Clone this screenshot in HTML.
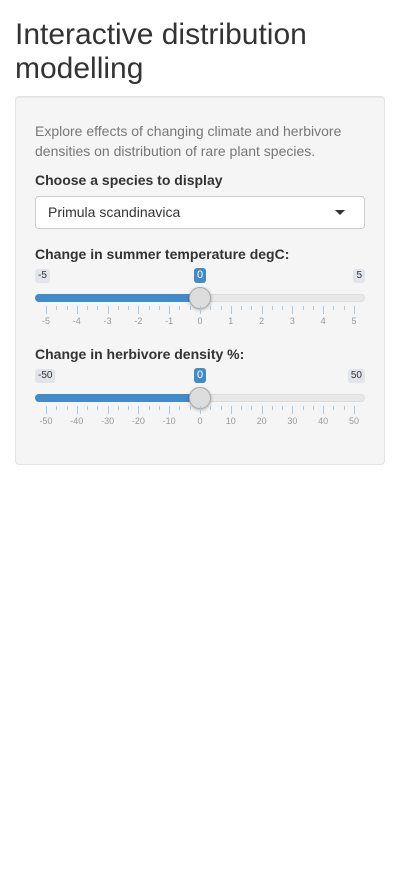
<!DOCTYPE html>
<html><head><meta charset="utf-8"><style>
body{margin:0;width:400px;height:885px;background:#fff;font-family:"Liberation Sans",sans-serif;color:#333;position:relative;overflow:hidden}
.a{position:absolute}
h1{position:absolute;left:15px;top:18px;margin:0;font-weight:400;font-size:30px;line-height:34px;width:370px}
.panel{left:15px;top:96px;width:368px;height:367px;background:#f5f5f5;border:1px solid #e3e3e3;border-radius:4px;box-shadow:inset 0 1px 1px rgba(0,0,0,.05)}
.desc{left:35px;top:121px;width:330px;font-size:14px;line-height:20px;color:#777}
.lbl{left:35px;font-size:14px;font-weight:700}
.sel{left:35px;top:196px;width:328px;height:31px;background:#fff;border:1px solid #ccc;border-radius:4px;font-size:14px;line-height:31px;text-indent:12px}
.caret{right:19px;top:13px;width:0;height:0;border-left:5px solid transparent;border-right:5px solid transparent;border-top:5px solid #333}
.mm{font-size:10px;background:#e1e4e9;color:#333;border-radius:3px;padding:1px 3px;line-height:12px}
.cur{font-size:11px;background:#428bca;color:#fff;border-radius:3px;padding:1px 3px;line-height:13px}
.track{left:35px;width:330px;height:8px;background:#e8e8e8;border:1px solid #ddd;box-sizing:border-box;border-radius:4px}
.bar{left:35px;width:165px;height:8px;background:#428bca;border-radius:4px 0 0 4px}
.handle{width:20px;height:20px;border-radius:50%;background:#ddd;border:1px solid #aaa;box-shadow:0 1px 3px rgba(0,0,0,.3)}
.tick{width:1px;background:#a5c8e8}
.gl{font-size:9px;color:#999;width:30px;text-align:center}
</style></head><body>
<h1>Interactive distribution modelling</h1>
<div class="a panel"></div>
<div class="a desc">Explore effects of changing climate and herbivore densities on distribution of rare plant species.</div>
<div class="a lbl" style="top:172px">Choose a species to display</div>
<div class="a sel">Primula scandinavica<div class="a caret"></div></div>
<div class="a lbl" style="top:246px">Change in summer temperature degC:</div>
<div class="a lbl" style="top:346px">Change in herbivore density %:</div>
<div id="s"></div>
<script>
const tempTicks=[-5,-4,-3,-2,-1,0,1,2,3,4,5];
const herbTicks=[-50,-40,-30,-20,-10,0,10,20,30,40,50];
const tempValue=0, herbValue=0;
function slider(name,ticks,value,top){
  const root=document.getElementById('s');
  const min=ticks[0],max=ticks[ticks.length-1];
  const x=v=>46+(v-min)/(max-min)*308;
  function mk(cls,css,txt){const d=document.createElement('div');d.className='a '+cls;d.style.cssText=css;if(txt!==undefined)d.textContent=txt;root.appendChild(d);return d;}
  let e=mk('mm','left:35px;top:'+(top-29)+'px',String(min));
  
  
  e=mk('mm','right:'+(400-365)+'px;top:'+(top-29)+'px',String(max));
  
  
  e=mk('track','top:'+(top-4)+'px');
  
  
  e=mk('bar','top:'+(top-4)+'px;width:'+(x(value)-35)+'px');
  
  
  const c=mk('cur','top:'+(top-30)+'px',String(value));
  c.style.left=(x(value)-c.offsetWidth/2)+'px';
  
  
  e=mk('handle','left:'+(x(value)-11)+'px;top:'+(top-11)+'px');
  
  
  for(let i=0;i<ticks.length;i++){
    const t=mk('tick','left:'+x(ticks[i])+'px;top:'+(top+8)+'px;height:8px');
    
    
    const g=mk('gl','left:'+(x(ticks[i])-15)+'px;top:'+(top+18)+'px',String(ticks[i]));
    
    
    if(i<ticks.length-1){for(let k=1;k<3;k++){
      const m=mk('tick','left:'+(x(ticks[i])+k*(x(ticks[i+1])-x(ticks[i]))/3)+'px;top:'+(top+8)+'px;height:4px');
      
      
    }}
  }
}
slider('temperature-slider',tempTicks,tempValue,298);
slider('herbivore-slider',herbTicks,herbValue,398);
</script>
</body></html>
